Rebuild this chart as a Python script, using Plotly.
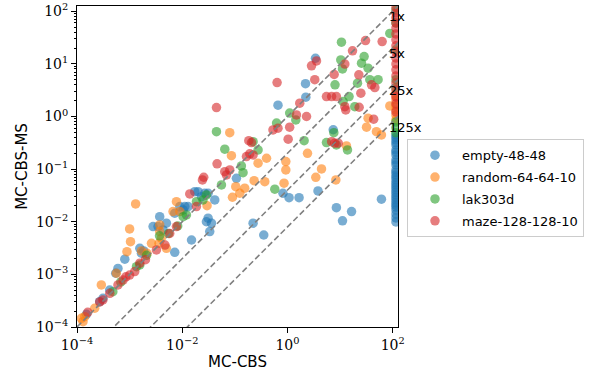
import numpy as np
import plotly.graph_objects as go

# ---------------- data ----------------
series_names = ["empty-48-48", "random-64-64-10", "lak303d", "maze-128-128-10"]
series_colors = ["#1f77b4", "#ff7f0e", "#2ca02c", "#d62728"]

TIMEOUT = 115  # MC-CBS runtime of instances that timed out (right-hand column)

empty_x = [0.66, 2.2, 2.23, 3.4, 7.4, 3.8, 8.5, 11.1, 16.5, 61, 0.82, 1.07, 1.66, 0.107, 0.222,
           0.354, 0.0415, 0.02, 0.0232, 0.031, 0.009, 0.0112, 0.0129, 0.0104, 0.00373,
           0.005, 0.00279, 0.00347, 0.00432, 0.0288, 0.0333, 0.0359, 0.015, 0.0072, 0.00156,
           0.00168, 0.00185, 0.00081, 0.000544, 0.0006, 0.000312, 0.00027, 0.000418, 0.000151,
           0.0173, 0.0268, 0.0072, 0.031]
empty_y = [1.64, 4.2, 2.33, 12.8, 0.56, 0.0385, 0.0185, 0.0104, 0.0156, 0.0268, 0.0348, 0.0287,
           0.0287, 0.067, 0.0094, 0.0056, 0.026, 0.0373, 0.03, 0.0348, 0.0194, 0.0194, 0.0194,
           0.0168, 0.0125, 0.0094, 0.0081, 0.0081, 0.007, 0.01, 0.0065, 0.0094, 0.0045, 0.00263,
           0.00313, 0.00252, 0.00279, 0.00194, 0.00105, 0.0013, 0.000352, 0.000303, 0.000505,
           0.000174, 0.0373, 0.0348, 0.0145, 0.0117]
empty_timeout_y = [0.447, 0.4, 0.359, 0.32, 0.288, 0.232, 0.21, 0.186, 0.15, 0.135, 0.12, 0.0966,
                   0.087, 0.0776, 0.07, 0.0624, 0.055, 0.05, 0.045, 0.0403, 0.036, 0.0324, 0.029,
                   0.026, 0.023, 0.0209, 0.019, 0.0168, 0.014, 0.0118, 0.0099]

random_x = [34, 31.8, 49, 61, 88, 13.2, 2.4, 0.93, 0.93, 0.86, 4.43, 3.45, 8.3, 0.08, 0.086,
            0.4, 0.276, 0.232, 0.37, 0.104, 0.154, 0.124, 0.09, 0.0296, 0.00776, 0.009, 0.00668,
            0.0013, 0.001, 0.00104, 0.00089, 0.00373, 0.004, 0.00362, 0.0026, 0.005, 0.00168,
            0.00214, 0.00029, 0.00056, 0.000217, 0.00014, 0.00013, 0.000121, 0.00373]
random_y = [0.93, 0.626, 0.516, 0.447, 1.59, 0.276, 0.2, 0.139, 0.0966, 0.054, 0.101, 0.07,
            0.0623, 0.494, 0.18, 0.161, 0.13, 0.0604, 0.0578, 0.0465, 0.0434, 0.0348, 0.0292,
            0.0202, 0.0241, 0.0156, 0.0156, 0.0218, 0.0073, 0.00419, 0.0027, 0.0065, 0.00485,
            0.0039, 0.0039, 0.00313, 0.00279, 0.00252, 0.00063, 0.00105, 0.000227, 0.000157,
            0.000126, 0.000146, 0.0087]
random_timeout_y = [2.47, 2.07, 1.59, 1.33, 1.07, 0.86]

lak_x = [1.1, 1.44, 0.62, 2.07, 0.0447, 0.222, 0.276, 0.0643, 0.133, 0.143, 0.0556, 0.574, 7.6,
         5.5, 13.8, 8.5, 10.6, 10.3, 11.1, 8, 14.8, 11.4, 19, 28.6, 25.5, 34, 21.4, 36.7, 52.7,
         0.0248, 0.012, 0.0288, 0.00048, 0.00135, 0.00156, 0.0104, 0.0186, 0.0082, 0.0037, 88,
         0.00068, 0.0021, 0.0055]
lak_y = [1.16, 0.86, 0.75, 0.348, 0.516, 0.333, 0.232, 0.239, 0.115, 0.0858, 0.05, 0.0415, 0.494,
         0.319, 0.232, 0.288, 25.9, 11.9, 8, 4, 2.39, 1.92, 1.54, 13.8, 10.3, 8.3, 4.3, 5, 5,
         0.026, 0.0135, 0.0323, 0.00047, 0.0014, 0.00151, 0.0125, 0.0241, 0.0083, 0.0054, 38,
         0.00072, 0.0023, 0.006]
lak_timeout_y = [106, 60, 18.5, 5, 3.5, 0.79, 0.61, 0.49]

maze_x = [0.0447, 0.634, 3.56, 2.86, 3.3, 1.71, 1.48, 2.3, 12.3, 17.2, 7.7, 5.5, 6.9, 8.5, 12.3,
          12.8, 23, 30.4, 22.7, 24.8, 39.5, 45.7, 62.9, 43.4, 0.53, 0.66, 1.1, 1.03, 0.184, 0.207,
          0.192, 0.166, 0.222, 0.0459, 0.0643, 0.08, 0.0692, 0.0256, 0.0242, 9.2, 6.9, 7.9,
          0.0139, 0.0186, 0.00031, 0.00042, 0.0006, 0.00075, 0.001, 0.00125, 0.00323, 0.00578,
          0.00776, 0.00156, 0.00085, 0.00027, 0.00016, 0.002, 0.0047]
maze_y = [1.48, 4.41, 11.4, 9.2, 5, 1.79, 1.07, 1.0, 9.9, 17.7, 6.3, 2.39, 2.39, 2.39, 1.54,
          1.33, 1.5, 27.7, 6.2, 2.77, 4, 3.54, 26.5, 0.89, 0.556, 0.6, 0.626, 0.37, 0.348, 0.319,
          0.195, 0.173, 0.186, 0.126, 0.0896, 0.0966, 0.0776, 0.0701, 0.0623, 0.311, 0.333, 0.311,
          0.0338, 0.0194, 0.000326, 0.000437, 0.00063, 0.00078, 0.00097, 0.00113, 0.00291, 0.006,
          0.0081, 0.00163, 0.0009, 0.0003, 0.00019, 0.0019, 0.0036]
maze_timeout_y = [116, 93, 75, 60, 48, 37, 28.6, 22, 16.9, 13, 10, 7.7, 5.9, 4.35, 3.2, 2.36,
                  1.74, 1.22]

speedups = [1, 5, 25, 125]
speedup_labels = ["1x", "5x", "25x", "125x"]

x_tick_vals = [1e-4, 1e-2, 1e0, 1e2]
x_tick_text = ["10<sup>−4</sup>", "10<sup>−2</sup>", "10<sup>0</sup>", "10<sup>2</sup>"]
y_tick_vals = [1e-4, 1e-3, 1e-2, 1e-1, 1e0, 1e1, 1e2]
y_tick_text = ["10<sup>−4</sup>", "10<sup>−3</sup>", "10<sup>−2</sup>", "10<sup>−1</sup>",
               "10<sup>0</sup>", "10<sup>1</sup>", "10<sup>2</sup>"]

AX_MIN, AX_MAX = 1e-4, 10 ** 2.1

# ---------------- figure ----------------
fig = go.Figure()

groups = [
    (empty_x, empty_y, empty_timeout_y),
    (random_x, random_y, random_timeout_y),
    (lak_x, lak_y, lak_timeout_y),
    (maze_x, maze_y, maze_timeout_y),
]
for name, color, (xs, ys, ty) in zip(series_names, series_colors, groups):
    fig.add_trace(go.Scatter(
        x=list(xs) + [TIMEOUT] * len(ty),
        y=list(ys) + list(ty),
        mode="markers",
        name=name,
        legendgroup=name,
        marker=dict(color=color, size=9.5, opacity=0.6, line=dict(width=0)),
        cliponaxis=True,
    ))

for k in speedups:
    fig.add_trace(go.Scatter(
        x=[AX_MIN, 1e3], y=[AX_MIN / k, 1e3 / k],
        mode="lines",
        line=dict(color="#808080", width=1.6, dash="6px,3px"),
        showlegend=False, hoverinfo="skip",
    ))

for k, lab in zip(speedups, speedup_labels):
    fig.add_annotation(
        x=np.log10(80), y=np.log10(100 / k), text=lab, showarrow=False,
        xanchor="left", yanchor="top", xshift=-1, yshift=4,
        font=dict(family="DejaVu Sans", size=13, color="black"),
    )

minor_vals = [m * 10.0 ** e for e in range(-4, 2) for m in range(2, 10)]

axis_common = dict(
    type="log", range=[np.log10(AX_MIN), np.log10(AX_MAX)],
    showline=True, linecolor="black", linewidth=1, mirror=True,
    ticks="outside", ticklen=5, tickwidth=1, tickcolor="black",
    showgrid=False, zeroline=False, automargin=False,
    tickfont=dict(family="DejaVu Serif", size=14, color="black"),
)

fig.update_layout(
    width=592, height=375,
    margin=dict(l=77, r=194, t=6, b=48),
    paper_bgcolor="white", plot_bgcolor="white",
    showlegend=True,
    legend=dict(
        x=1.028, y=0.585, xanchor="left", yanchor="top",
        bordercolor="#cccccc", borderwidth=1, bgcolor="white",
        font=dict(family="DejaVu Sans", size=13, color="black"),
        itemwidth=44, tracegroupgap=2,
    ),
    xaxis=dict(**axis_common, tickvals=x_tick_vals, ticktext=x_tick_text,
               title=dict(text="MC-CBS", font=dict(family="DejaVu Sans", size=15, color="black"),
                          standoff=4)),
    yaxis=dict(**axis_common, tickvals=y_tick_vals, ticktext=y_tick_text,
               minor=dict(ticks="outside", ticklen=2.5, tickwidth=0.8, tickcolor="black",
                          tickvals=minor_vals, showgrid=False),
               title=dict(text="MC-CBS-MS", font=dict(family="DejaVu Sans", size=15, color="black"),
                          standoff=4)),
)

fig.write_html("out.html", config={"displayModeBar": False},
               post_script="document.body.style.margin='0';")
